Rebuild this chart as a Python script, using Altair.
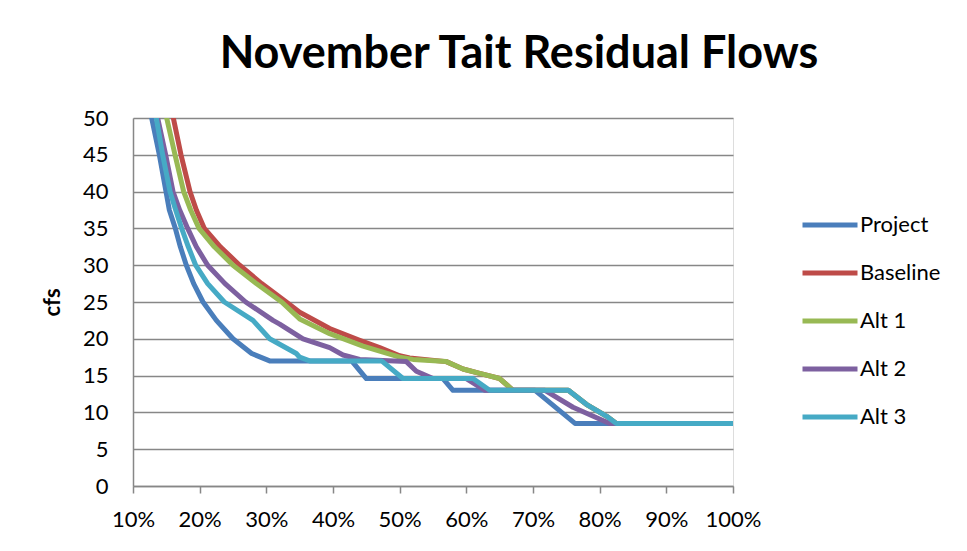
import altair as alt
import pandas as pd

series_names = ["Project", "Baseline", "Alt 1", "Alt 2", "Alt 3"]
series_colors = ["#4A7EBB", "#BE4B48", "#98B954", "#7D60A0", "#46AAC5"]

project_x = [0.128, 0.1395, 0.1495, 0.1545, 0.1635, 0.171, 0.18, 0.191, 0.205, 0.225, 0.25, 0.278, 0.305, 0.428, 0.45, 0.565, 0.58, 0.703, 0.763, 1.0]
project_y = [50, 45, 40, 37.5, 35, 32.5, 30, 27.5, 25, 22.5, 20, 18, 17, 17, 14.6, 14.6, 13, 13, 8.5, 8.5]

baseline_x = [0.1605, 0.172, 0.1855, 0.195, 0.207, 0.231, 0.26, 0.293, 0.33, 0.35, 0.395, 0.44, 0.47, 0.50, 0.515, 0.57, 0.595, 0.62, 0.65, 0.67, 0.753, 0.78, 0.81, 0.825, 1.0]
baseline_y = [50, 45, 40, 37.5, 35, 32.5, 30, 27.5, 25, 23.6, 21.4, 19.8, 18.8, 17.7, 17.4, 16.9, 15.9, 15.3, 14.6, 13, 13, 11.1, 9.5, 8.5, 8.5]

alt1_x = [0.1505, 0.163, 0.176, 0.1865, 0.199, 0.222, 0.25, 0.285, 0.323, 0.35, 0.395, 0.445, 0.50, 0.52, 0.57, 0.595, 0.62, 0.65, 0.67, 0.753, 0.78, 0.81, 0.825, 1.0]
alt1_y = [50, 45, 40, 37.5, 35, 32.5, 30, 27.5, 25, 22.7, 20.7, 19, 17.5, 17.2, 16.9, 15.9, 15.3, 14.6, 13, 13, 11.1, 9.5, 8.5, 8.5]

alt2_x = [0.137, 0.149, 0.160, 0.170, 0.182, 0.195, 0.212, 0.238, 0.269, 0.31, 0.32, 0.355, 0.395, 0.415, 0.44, 0.51, 0.525, 0.55, 0.60, 0.628, 0.718, 0.76, 0.815, 1.0]
alt2_y = [50, 45, 40, 37.5, 35, 32.5, 30, 27.5, 25, 22.5, 22, 20, 18.8, 17.8, 17.2, 16.9, 15.6, 14.6, 14.6, 13, 13, 10.7, 8.5, 8.5]

alt3_x = [0.135, 0.1445, 0.1555, 0.164, 0.173, 0.183, 0.194, 0.212, 0.237, 0.28, 0.305, 0.345, 0.35, 0.365, 0.473, 0.505, 0.61, 0.635, 0.753, 0.78, 0.81, 0.825, 1.0]
alt3_y = [50, 45, 40, 37.5, 35, 32.5, 30, 27.5, 25, 22.5, 20, 18, 17.5, 17, 17, 14.6, 14.6, 13, 13, 11.1, 9.5, 8.5, 8.5]

x_ticks = [0.1, 0.2, 0.3, 0.4, 0.5, 0.6, 0.7, 0.8, 0.9, 1.0]
y_ticks = [0, 5, 10, 15, 20, 25, 30, 35, 40, 45, 50]

all_x = [project_x, baseline_x, alt1_x, alt2_x, alt3_x]
all_y = [project_y, baseline_y, alt1_y, alt2_y, alt3_y]

rows = []
for name, xs, ys in zip(series_names, all_x, all_y):
    for i, (xv, yv) in enumerate(zip(xs, ys)):
        rows.append({"series": name, "pct": xv, "cfs": yv, "idx": i})
df = pd.DataFrame(rows)

FONT = "Lato"
GRAY = "#878787"

chart = alt.Chart(df).mark_line(strokeWidth=5, strokeCap="round", strokeJoin="round", clip=True).encode(
    x=alt.X("pct:Q",
            scale=alt.Scale(domain=[0.1, 1.0], nice=False, zero=False),
            axis=alt.Axis(values=x_ticks, format=".0%", title=None, grid=False,
                          tickSize=7, tickColor=GRAY, tickWidth=1.5,
                          domainColor=GRAY, domainWidth=1.5,
                          labelFont=FONT, labelFontSize=22, labelColor="black",
                          labelPadding=16, labelOverlap=False, labelFlush=False)),
    y=alt.Y("cfs:Q",
            scale=alt.Scale(domain=[0, 50], nice=False),
            axis=alt.Axis(values=y_ticks, title="cfs", ticks=False, grid=True,
                          gridColor=GRAY, gridWidth=1.5,
                          domainColor=GRAY, domainWidth=1.5,
                          labelFont=FONT, labelFontSize=22, labelColor="black",
                          labelPadding=25,
                          titleFont=FONT, titleFontSize=22, titleFontWeight="bold",
                          titleColor="black", titleAngle=270, titleX=-81, titleY=184,
                          titleAlign="center", titleBaseline="middle")),
    color=alt.Color("series:N",
                    scale=alt.Scale(domain=series_names, range=series_colors),
                    legend=alt.Legend(title=None, orient="none", legendX=667, legendY=77,
                                      symbolType="stroke", symbolSize=3025,
                                      symbolStrokeWidth=5, rowPadding=7,
                                      labelFont=FONT, labelFontSize=22, labelColor="black",
                                      labelOffset=0)),
    order="idx:Q",
).properties(
    width=600,
    height=368,
    title=alt.TitleParams("November Tait Residual Flows", font=FONT, fontSize=45,
                          fontWeight="bold", color="black", anchor="middle",
                          dx=86, dy=56, offset=50, baseline="alphabetic"),
    autosize=alt.AutoSizeParams(type="none"),
    padding={"left": 125, "top": 110, "right": 226, "bottom": 57},
).configure_view(stroke=None).configure(background="white")

chart.save("out.html", embed_options={"renderer": "svg", "actions": False})
